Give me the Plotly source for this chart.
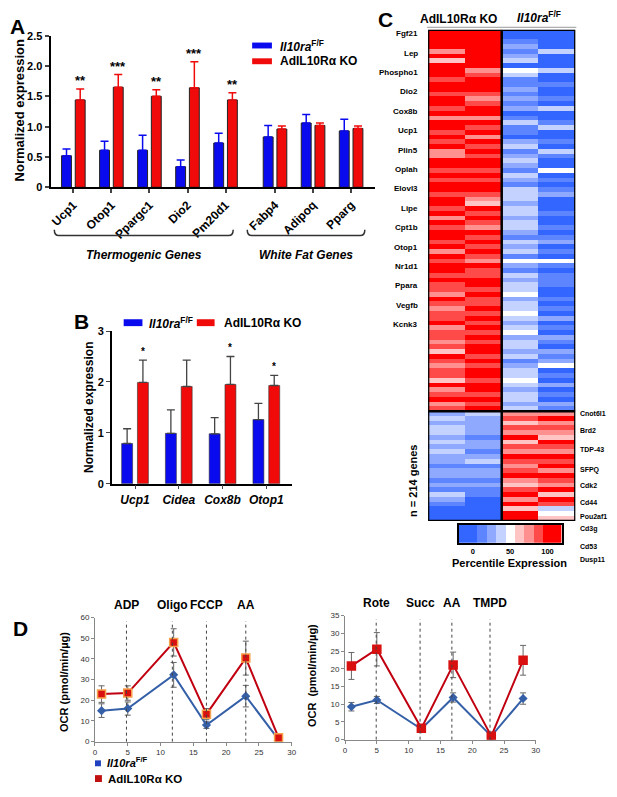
import plotly.graph_objects as go

# page body has an 8px margin on every side: size the figure so the page fits the window
OFF = 8
W, H = 617 - 2 * OFF, 797 - 2 * OFF
def px(x): return (x - OFF) / W
def py(y): return 1 - (y - OFF) / H

FONT = "Arial, Liberation Sans, sans-serif"
BLUE = "#0a0aef"
RED = "#f00a0a"

# ---------------- Panel A data ----------------
a_genes = ["Ucp1", "Otop1", "Ppargc1", "Dio2", "Pm20d1", "Fabp4", "Adipoq", "Pparg"]
a_pos = [0, 1, 2, 3, 4, 5.3, 6.3, 7.3]
a_wt = [0.52, 0.61, 0.61, 0.34, 0.73, 0.83, 1.06, 0.93]
a_wt_err = [0.11, 0.15, 0.25, 0.11, 0.16, 0.19, 0.14, 0.19]
a_ko = [1.44, 1.65, 1.50, 1.64, 1.44, 0.96, 1.02, 0.97]
a_ko_err = [0.18, 0.21, 0.11, 0.43, 0.12, 0.05, 0.04, 0.04]
a_sig = ["**", "***", "**", "***", "**", "", "", ""]
a_groups = ["Thermogenic Genes", "White Fat Genes"]
a_group_span = [(-0.5, 4.2), (4.57, 7.66)]

# ---------------- Panel B data ----------------
b_genes = ["Ucp1", "Cidea", "Cox8b", "Otop1"]
b_wt = [0.79, 0.99, 0.98, 1.26]
b_wt_err = [0.29, 0.46, 0.32, 0.32]
b_ko = [1.99, 1.91, 1.95, 1.93]
b_ko_err = [0.44, 0.52, 0.55, 0.20]
b_sig = ["*", "", "*", "*"]

# ---------------- Panel C data (percentile level 0..8) ----------------
up_ko1 = [8,8,8,8,6,8,5,8,8,8,7,8,8,7,8,8,7,8,6,8,8,7,8,7,8,6,
          6,8,8,7,8,7,8,8,7,8,8,7,8,6,8,7,8,8,7,8,6,8,7,8,8,7,8,
          7,7,6,8,7,6,7,7,8,6,7,7,6,7,5,8,7,6,7,7,5,8,6,7,8,6,7]
up_ko2 = [8,8,8,8,8,8,8,8,6,7,8,8,8,7,6,7,8,8,6,8,7,8,6,8,7,8,
          7,8,8,7,8,7,8,8,7,6,5,8,7,8,7,6,8,7,8,7,8,7,6,8,7,7,8,
          8,7,8,7,7,8,7,8,7,8,7,8,7,8,8,7,8,7,8,8,7,8,8,7,8,7,8]
up_wt1 = [0,0,1,2,1,2,3,0,4,3,1,1,2,1,2,1,2,0,1,3,1,1,0,2,3,1,
          2,3,2,1,3,2,1,3,3,3,2,3,3,2,3,3,2,1,3,2,3,1,4,2,1,3,2,
          3,3,4,2,3,3,4,3,2,3,4,2,3,3,2,3,1,2,3,3,4,3,2,3,3,2,3]
up_wt2 = [0,0,0,0,3,0,0,0,3,0,0,1,0,0,1,0,3,0,0,1,3,0,0,1,0,3,
          1,0,0,4,0,1,0,1,2,0,0,0,1,0,0,1,0,1,2,0,1,0,4,1,0,1,1,
          1,0,0,1,0,1,0,2,0,1,0,2,1,0,2,1,2,4,0,1,0,2,0,1,0,2,1]
lo_ko1 = [2,3,2,3,3,2,3,2,3,2,2,1,2,2,1,2,1,3,2,1,0,0,0]
lo_ko2 = [3,2,2,2,2,1,2,2,1,2,3,1,2,2,1,2,1,1,0,0,0,0,0]
lo_wt1 = [6,7,5,7,6,8,5,7,6,8,7,6,7,8,6,5,7,8,6,8,5,8,8]
lo_wt2 = [6,8,6,7,6,5,8,7,6,8,7,8,6,8,7,6,8,5,8,7,3,4,5]
cbar_levels = [0, 0, 1, 2, 3, 4, 5, 6, 7, 8, 8]
cbar_ticks = ["0", "50", "100"]
level_colors = ["#3366ff", "#5c85ff", "#8fa9ff", "#c4d2ff", "#ffffff",
                "#ffc4c4", "#ff9090", "#ff4a4a", "#ff0000"]
left_genes = ["Fgf21", "Lep", "Phospho1", "Dio2", "Cox8b", "Ucp1", "Plin5", "Oplah",
              "Elovl3", "Lipe", "Cpt1b", "Otop1", "Nr1d1", "Ppara", "Vegfb", "Kcnk3"]
right_genes = ["Cnot6l1", "Brd2", "TDP-43", "SFPQ", "Cdk2", "Cd44", "Pou2af1",
               "Cd3g", "Cd53", "Dusp11"]
n_genes = 214

# ---------------- Panel D data ----------------
d1_time = [1, 5, 12, 17, 23, 28]
d1_wt = [15.0, 16.0, 32.3, 8.0, 22.0, 1.0]
d1_wt_err = [3.3, 3.2, 6.0, 1.6, 5.2, 0.5]
d1_ko = [23.0, 23.5, 48.0, 13.3, 40.4, 1.9]
d1_ko_err = [4.0, 3.5, 6.6, 2.7, 8.2, 0.8]
d1_events = ["ADP", "Oligo", "FCCP", "AA"]
d1_event_t = [4.8, 11.8, 17.0, 23.0]

d2_time = [1, 5, 12, 17, 23, 28]
d2_wt = [9.3, 11.2, 3.0, 11.9, 1.0, 11.6]
d2_wt_err = [1.2, 1.0, 0.5, 1.3, 0.3, 1.6]
d2_ko = [20.8, 25.5, 3.2, 21.1, 1.0, 22.4]
d2_ko_err = [3.8, 4.7, 0.6, 3.6, 0.4, 4.2]
d2_events = ["Rote", "Succ", "AA", "TMPD"]
d2_event_t = [4.9, 11.8, 16.8, 22.8]

WT_LABEL = "<b><i>Il10ra</i><sup>F/F</sup></b>"
KO_LABEL = "<b>AdIL10R\u03b1 KO</b>"

fig = go.Figure()
ann = []
shapes = []

def text(x, y, s, size=12, xanchor="center", yanchor="middle", angle=0, color="black"):
    ann.append(dict(x=px(x), y=py(y), xref="paper", yref="paper", text=s, showarrow=False,
                    xanchor=xanchor, yanchor=yanchor, textangle=angle,
                    font=dict(size=size, color=color, family=FONT)))

def rect(x0, y0, x1, y1, color):
    shapes.append(dict(type="rect", xref="paper", yref="paper", x0=px(x0), x1=px(x1),
                       y0=py(y0), y1=py(y1), fillcolor=color, line=dict(width=0)))

# ---------------- Panel A ----------------
fig.add_trace(go.Bar(x=a_pos, y=a_wt, width=0.26, offset=-0.31, marker=dict(color=BLUE, line=dict(color="#222", width=1)),
                     error_y=dict(type="data", symmetric=False, array=a_wt_err, arrayminus=[0]*len(a_wt),
                                  color=BLUE, thickness=1.5, width=4), xaxis="x", yaxis="y"))
fig.add_trace(go.Bar(x=a_pos, y=a_ko, width=0.26, offset=0.05, marker=dict(color=RED, line=dict(color="#222", width=1)),
                     error_y=dict(type="data", symmetric=False, array=a_ko_err, arrayminus=[0]*len(a_ko),
                                  color=RED, thickness=1.5, width=4), xaxis="x", yaxis="y"))
for xp, v, e, s in zip(a_pos, a_ko, a_ko_err, a_sig):
    if s:
        ann.append(dict(x=xp + 0.18, y=v + e - 0.02, xref="x", yref="y", text="<b>" + s + "</b>",
                        showarrow=False, yanchor="bottom", font=dict(size=13, family=FONT)))
for name, (g0, g1) in zip(a_groups, a_group_span):
    yt, yb = py(227), py(233)
    d = 0.12
    shapes.append(dict(type="path", xref="x", yref="paper",
                       path=f"M {g0},{yt} Q {g0},{yb} {g0+d},{yb} L {g1-d},{yb} Q {g1},{yb} {g1},{yt}",
                       line=dict(color="#333", width=1.5)))
    ann.append(dict(x=(g0 + g1) / 2, y=py(244), xref="x", yref="paper", text="<b><i>" + name + "</i></b>",
                    showarrow=False, font=dict(size=12, family=FONT)))
text(18, 106, "<b>Normalized expression</b>", size=13, angle=-90)
text(16, 21, "<b>A</b>", size=21)
rect(253, 37, 273, 43, BLUE)
rect(253, 53, 273, 59, RED)
text(279, 40, WT_LABEL, size=12, xanchor="left")
text(279, 56, KO_LABEL, size=12, xanchor="left")

# ---------------- Panel B ----------------
b_pos = list(range(len(b_genes)))
fig.add_trace(go.Bar(x=b_pos, y=b_wt, width=0.25, offset=-0.305, marker=dict(color=BLUE, line=dict(color="#333", width=0.6)),
                     error_y=dict(type="data", symmetric=False, array=b_wt_err, arrayminus=[0]*len(b_wt),
                                  color="#444", thickness=1.3, width=4), xaxis="x2", yaxis="y2"))
fig.add_trace(go.Bar(x=b_pos, y=b_ko, width=0.25, offset=0.056, marker=dict(color=RED, line=dict(color="#333", width=0.6)),
                     error_y=dict(type="data", symmetric=False, array=b_ko_err, arrayminus=[0]*len(b_ko),
                                  color="#444", thickness=1.3, width=4), xaxis="x2", yaxis="y2"))
for xp, v, e, s in zip(b_pos, b_ko, b_ko_err, b_sig):
    if s:
        ann.append(dict(x=xp + 0.18, y=v + e + 0.03, xref="x2", yref="y2", text="<b>" + s + "</b>",
                        showarrow=False, yanchor="bottom", font=dict(size=10, family=FONT)))
text(88, 408, "<b>Normalized expression</b>", size=12, angle=-90)
text(80, 320, "<b>B</b>", size=21)
rect(123, 318, 142, 325, BLUE)
rect(197, 318, 215, 325, RED)
text(147, 321.5, WT_LABEL, size=12, xanchor="left")
text(222, 321.5, KO_LABEL, size=12, xanchor="left")

# ---------------- Panel C ----------------
cols = [up_ko1 + lo_ko1, up_ko2 + lo_ko2, up_wt1 + lo_wt1, up_wt2 + lo_wt2]
n_rows = len(cols[0])
n_up = len(up_ko1)
z = [list(r) for r in zip(*cols)]
nl = len(level_colors)
cs = []
for i, c in enumerate(level_colors):
    cs.append([i / nl, c])
    cs.append([(i + 1) / nl, c])
fig.add_trace(go.Heatmap(z=z, x=[0, 1, 2, 3], y=list(range(n_rows)), colorscale=cs, zmin=-0.5, zmax=nl - 0.5,
                         showscale=False, hoverinfo="skip", xaxis="x3", yaxis="y3"))
fig.add_trace(go.Heatmap(z=[cbar_levels], x=list(range(len(cbar_levels))), y=[0], colorscale=cs,
                         zmin=-0.5, zmax=nl - 0.5, showscale=False, hoverinfo="skip", xaxis="x4", yaxis="y4"))
shapes.append(dict(type="rect", xref="x3", yref="y3", x0=-0.5, x1=3.5, y0=-0.5, y1=n_rows - 0.5,
                   line=dict(color="black", width=2.5)))
shapes.append(dict(type="line", xref="x3", yref="y3", x0=1.5, x1=1.5, y0=-0.5, y1=n_rows - 0.5,
                   line=dict(color="black", width=2.5)))
shapes.append(dict(type="line", xref="x3", yref="y3", x0=-0.5, x1=3.5, y0=n_up - 0.5, y1=n_up - 0.5,
                   line=dict(color="black", width=2.5)))
shapes.append(dict(type="line", xref="paper", yref="paper", x0=px(430), x1=px(581), y0=py(21.5), y1=py(21.5),
                   line=dict(color="#999", width=1)))
for i, g in enumerate(left_genes):
    text(423, 28 + i * 19.7, "<b>" + g + "</b>", size=8, xanchor="right")
right_y = [414, 431, 450, 471, 487, 504, 518, 531, 549, 563]
for g, yy in zip(right_genes, right_y):
    text(583, yy, "<b>" + g + "</b>", size=7, xanchor="left")
text(415, 482, f"<b>n = {n_genes} genes</b>", size=11, angle=-90)
text(462, 13, KO_LABEL, size=12)
text(543, 11, WT_LABEL, size=12)
text(388, 14, "<b>C</b>", size=21)
text(513, 566, "<b>Percentile Expression</b>", size=11)

# ---------------- Panel D ----------------
def d_traces(t, wt, wte, ko, koe, xa, ya, ko_outline):
    fig.add_trace(go.Scatter(x=t, y=wt, mode="lines+markers", line=dict(color="#3560a8", width=2),
                             marker=dict(symbol="diamond", size=7, color="#3560a8"),
                             error_y=dict(type="data", array=wte, color="#666", thickness=1, width=3),
                             xaxis=xa, yaxis=ya))
    fig.add_trace(go.Scatter(x=t, y=ko, mode="lines+markers", line=dict(color="#c00010", width=2),
                             marker=dict(symbol="square", size=8, color="#d81010",
                                         line=dict(color=ko_outline, width=1.5)),
                             error_y=dict(type="data", array=koe, color="#666", thickness=1, width=3),
                             xaxis=xa, yaxis=ya))

d_traces(d1_time, d1_wt, d1_wt_err, d1_ko, d1_ko_err, "x5", "y5", "#f6a04a")
d_traces(d2_time, d2_wt, d2_wt_err, d2_ko, d2_ko_err, "x6", "y6", "#d81010")
for ev, t in zip(d1_events, d1_event_t):
    shapes.append(dict(type="line", xref="x5", yref="y5 domain", x0=t, x1=t, y0=0, y1=0.97,
                       line=dict(color="#444", width=1, dash="dot")))
    ann.append(dict(x=t, y=py(617), xref="x5", yref="paper", text="<b>" + ev + "</b>", showarrow=False,
                    font=dict(size=12, family=FONT)))
for ev, t in zip(d2_events, d2_event_t):
    shapes.append(dict(type="line", xref="x6", yref="y6 domain", x0=t, x1=t, y0=0, y1=0.97,
                       line=dict(color="#444", width=1, dash="dot")))
    ann.append(dict(x=t, y=py(615), xref="x6", yref="paper", text="<b>" + ev + "</b>", showarrow=False,
                    font=dict(size=12, family=FONT)))
text(62, 686, "<b>OCR (pmol/min/\u00b5g)</b>", size=11, angle=-90)
text(313, 680, "<b>OCR  (pmol/min/\u00b5g)</b>", size=11, angle=-90)
text(19, 632, "<b>D</b>", size=21)
rect(94, 766, 100, 772, "#2040c0")
rect(94, 781, 101, 788, "#c01010")
text(104, 768, WT_LABEL, size=11, xanchor="left")
text(105, 784.5, KO_LABEL, size=11.5, xanchor="left")

# ---------------- Axes ----------------
base = dict(showgrid=False, zeroline=False, showline=True, linecolor="black", ticks="outside")
fig.update_layout(
    width=W, height=H, margin=dict(l=0, r=0, t=0, b=0), paper_bgcolor="white", plot_bgcolor="white",
    showlegend=False, barmode="overlay", font=dict(family=FONT, color="black"),
    annotations=ann, shapes=shapes,
    xaxis=dict(base, domain=[px(49), px(377)], range=[-0.6, 7.92], linewidth=2, ticklen=4, tickwidth=1.5,
               tickvals=a_pos, ticktext=["<b>" + g + "</b>" for g in a_genes], tickangle=-45,
               tickfont=dict(size=12), anchor="y"),
    yaxis=dict(base, domain=[py(184), py(30)], range=[0, 2.5], linewidth=2, ticklen=4, tickwidth=1.5,
               tickvals=[0, 0.5, 1, 1.5, 2, 2.5], ticktext=["<b>0</b>", "<b>0.5</b>", "<b>1.0</b>", "<b>1.5</b>", "<b>2.0</b>", "<b>2.5</b>"],
               tickfont=dict(size=11), anchor="x"),
    xaxis2=dict(base, domain=[px(111), px(293)], range=[-0.53, 3.58], linewidth=1.5, ticklen=4,
                tickvals=b_pos, ticktext=["<b><i>" + g + "</i></b>" for g in b_genes],
                tickfont=dict(size=12), anchor="y2"),
    yaxis2=dict(base, domain=[py(485), py(330)], range=[0, 3], linewidth=1.5, ticklen=4,
                tickvals=[0, 1, 2, 3], ticktext=["<b>0</b>", "<b>1</b>", "<b>2</b>", "<b>3</b>"],
                tickfont=dict(size=11), anchor="x2"),
    xaxis3=dict(domain=[px(431), px(580)], range=[-0.5, 3.5], visible=False, anchor="y3"),
    yaxis3=dict(domain=[py(523), py(24)], range=[n_rows - 0.5, -0.5], visible=False, anchor="x3"),
    xaxis4=dict(domain=[px(462), px(566)], range=[-0.5, len(cbar_levels) - 0.5], showline=True, mirror=True,
                linecolor="black", linewidth=2, showgrid=False, zeroline=False, ticks="", ticklen=0,
                tickvals=[1, 5, 9], ticktext=["<b>" + t + "</b>" for t in cbar_ticks], tickfont=dict(size=7.5),
                anchor="y4"),
    yaxis4=dict(domain=[py(545), py(527)], range=[-0.5, 0.5], showline=True, mirror=True, linecolor="black",
                linewidth=2, showgrid=False, zeroline=False, showticklabels=False, ticks="", anchor="x4"),
    xaxis5=dict(base, domain=[px(94), px(293)], range=[0, 30], linecolor="#888", linewidth=1, ticklen=3,
                tickcolor="#888", dtick=5, tickfont=dict(size=8, color="#333"), anchor="y5"),
    yaxis5=dict(base, domain=[py(747), py(621)], range=[0, 60], linecolor="#888", linewidth=1, ticklen=3,
                tickcolor="#888", dtick=10, tickfont=dict(size=8, color="#333"), anchor="x5"),
    xaxis6=dict(base, domain=[px(347), px(540)], range=[0, 30], linecolor="#888", linewidth=1, ticklen=3,
                tickcolor="#888", dtick=5, tickfont=dict(size=8, color="#333"), anchor="y6"),
    yaxis6=dict(base, domain=[py(745), py(619)], range=[0, 35], linecolor="#888", linewidth=1, ticklen=3,
                tickcolor="#888", dtick=5, tickfont=dict(size=8, color="#333"), anchor="x6"),
)

fig.write_html("out.html")
